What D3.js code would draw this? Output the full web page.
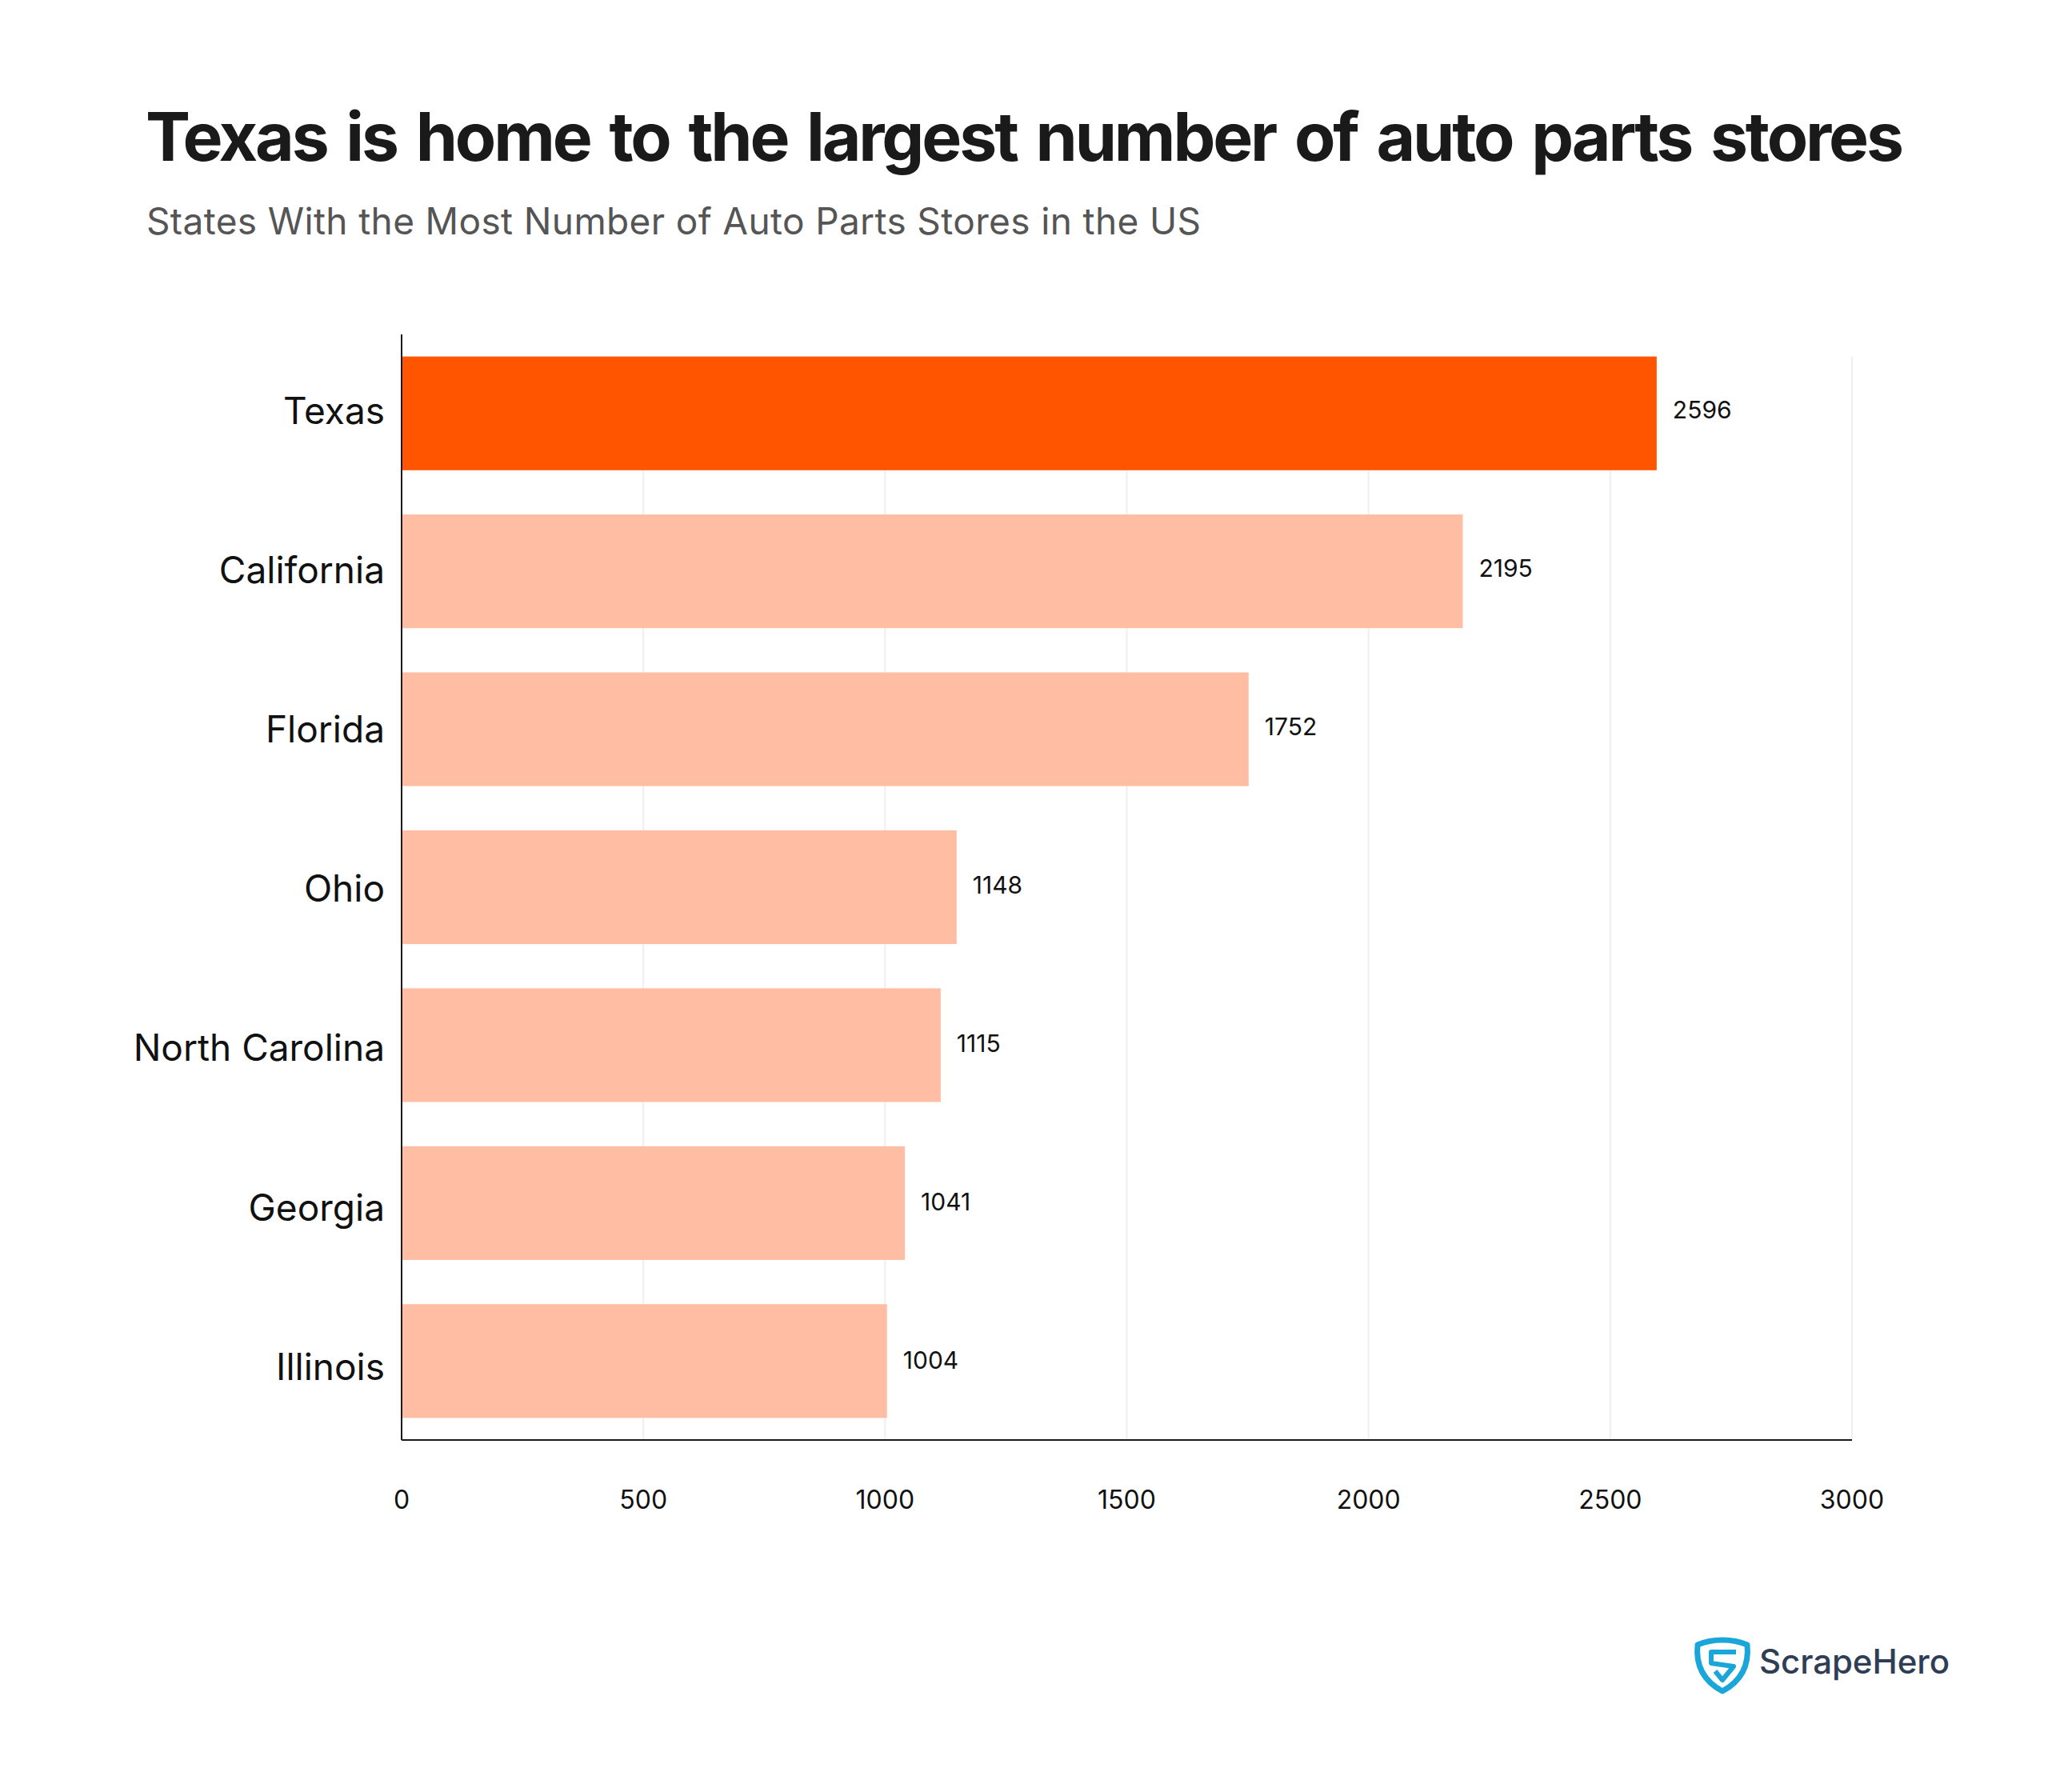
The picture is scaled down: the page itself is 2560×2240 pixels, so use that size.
<!DOCTYPE html>
<html>
<head>
<meta charset="utf-8">
<title>Auto parts stores by state</title>
<script src="https://cdnjs.cloudflare.com/ajax/libs/d3/7.8.5/d3.min.js"></script>
<style>
  html, body { margin: 0; padding: 0; background: #fff; }
  svg { display: block; }
  text { font-family: Inter, "Noto Sans", sans-serif; }
</style>
</head>
<body>
<div id="chart"></div>
<script>
var states = ["Texas", "California", "Florida", "Ohio", "North Carolina", "Georgia", "Illinois"];
var stores = [2596, 2195, 1752, 1148, 1115, 1041, 1004];
var xTicks = [0, 500, 1000, 1500, 2000, 2500, 3000];

var titleText = "Texas is home to the largest number of auto parts stores";
var subtitleText = "States With the Most Number of Auto Parts Stores in the US";

var width = 2560, height = 2240;
var left = 502, right = 2315, top_ = 418, bottom = 1800;

var svg = d3.select("#chart").append("svg")
  .attr("width", width)
  .attr("height", height);

svg.append("text")
  .attr("x", 182).attr("y", 201)
  .attr("font-size", 84).attr("font-weight", 700)
  .attr("fill", "#1a1a1a")
  .attr("word-spacing", 7)
  .attr("textLength", 2198).attr("lengthAdjust", "spacing")
  .text(titleText);

svg.append("text")
  .attr("x", 183).attr("y", 293)
  .attr("font-size", 46).attr("font-weight", 400)
  .attr("fill", "#555555")
  .attr("textLength", 1318).attr("lengthAdjust", "spacing")
  .text(subtitleText);

var x = d3.scaleLinear().domain([0, 3000]).range([left, right]);
var y = d3.scaleBand().domain(states).range([top_, bottom])
  .paddingInner(0.28).paddingOuter(0.14);

/* the labels in the original do not sit quite on the bar centres */
var labelY = d3.scalePoint().domain(states).range([515, 1710]);
var valueY = d3.scalePoint().domain(states).range([523, 1711]);

/* gridlines sit under the bars and start at the top of the first bar */
svg.append("g").selectAll("line")
  .data(xTicks.slice(1))
  .enter().append("line")
  .attr("x1", function(d) { return x(d); })
  .attr("x2", function(d) { return x(d); })
  .attr("y1", y(states[0]))
  .attr("y2", bottom)
  .attr("stroke", "#efefef")
  .attr("stroke-width", 2);

svg.append("g").selectAll("rect")
  .data(states)
  .enter().append("rect")
  .attr("x", left)
  .attr("y", function(d) { return y(d); })
  .attr("width", function(d, i) { return x(stores[i]) - left; })
  .attr("height", y.bandwidth())
  .attr("fill", function(d, i) { return i === 0 ? "#ff5500" : "#ffbda3"; });

svg.append("g").selectAll("text")
  .data(states)
  .enter().append("text")
  .attr("x", function(d, i) { return x(stores[i]) + 20; })
  .attr("y", function(d) { return valueY(d); })
  .attr("font-size", 30)
  .attr("fill", "#111")
  .text(function(d, i) { return stores[i]; });

var xAxis = svg.append("g")
  .attr("transform", "translate(0," + bottom + ")")
  .call(d3.axisBottom(x).tickValues(xTicks).tickSize(0).tickPadding(63).offset(0).tickFormat(d3.format("d")));
xAxis.select(".domain").attr("stroke", "#1a1a1a").attr("stroke-width", 2);
xAxis.selectAll("text").attr("font-size", 32).attr("fill", "#111").attr("font-family", null);

var yAxis = svg.append("g")
  .attr("transform", "translate(" + left + ",0)")
  .call(d3.axisLeft(y).tickSize(0).tickPadding(21).offset(0));
yAxis.select(".domain").attr("stroke", "#1a1a1a").attr("stroke-width", 2);
yAxis.selectAll(".tick").attr("transform", function(d) { return "translate(0," + labelY(d) + ")"; });
yAxis.selectAll("text").attr("font-size", 46).attr("fill", "#111").attr("font-family", null);

/* logo */
var logo = svg.append("g");
logo.append("path")
  .attr("d", "M2153 2050 Q2170 2050 2184 2056 Q2188 2095 2153 2114 Q2118 2095 2122 2056 Q2136 2050 2153 2050 Z")
  .attr("fill", "none").attr("stroke", "#1ba6d9").attr("stroke-width", 7).attr("stroke-linejoin", "round");
logo.append("path")
  .attr("d", "M2170 2065 H2139 V2079 L2167 2083 L2153 2100 L2144 2089")
  .attr("fill", "none").attr("stroke", "#1ba6d9").attr("stroke-width", 6).attr("stroke-linejoin", "round");
logo.append("text")
  .attr("x", 2199).attr("y", 2092)
  .attr("font-size", 42).attr("font-weight", 500)
  .attr("fill", "#2f3e55")
  .attr("textLength", 238).attr("lengthAdjust", "spacing")
  .text("ScrapeHero");
</script>
</body>
</html>
